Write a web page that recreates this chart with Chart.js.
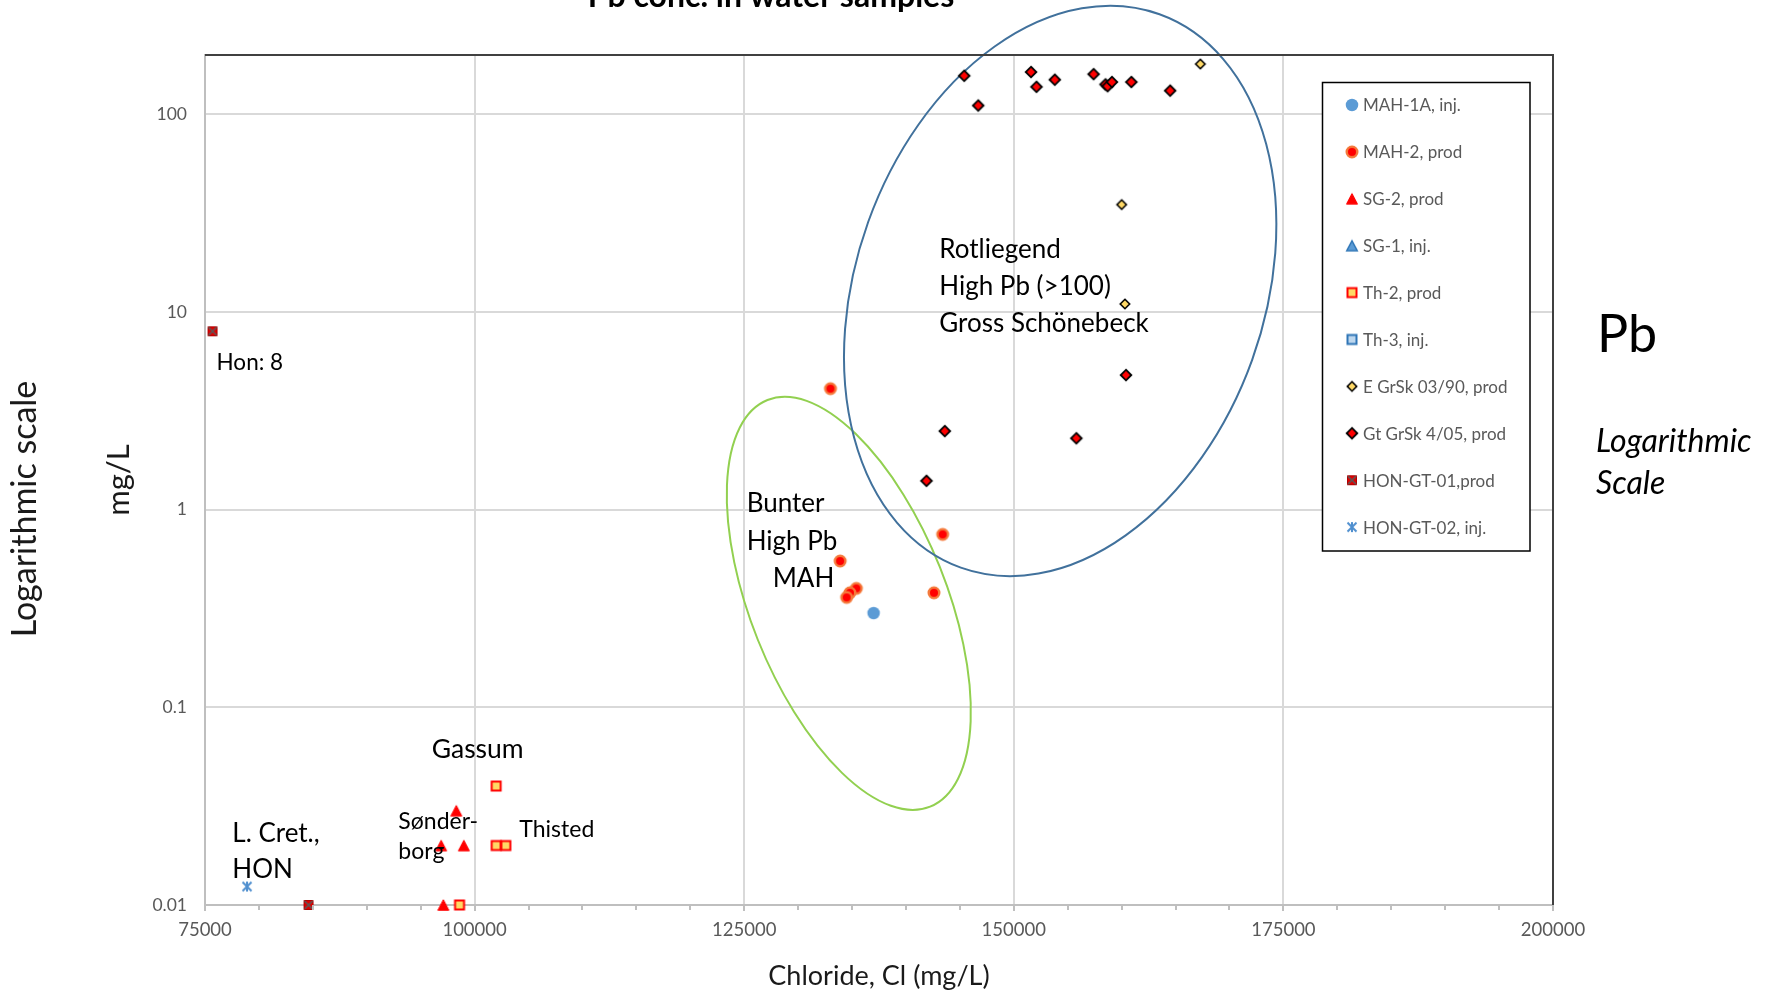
<!DOCTYPE html>
<html>
<head>
<meta charset="utf-8">
<script src="https://cdn.jsdelivr.net/npm/chart.js@4.4.1/dist/chart.umd.min.js"></script>
<style>
  html, body { margin: 0; padding: 0; background: #ffffff; overflow: hidden; }
  canvas { display: block; }
</style>
</head>
<body>
<canvas id="c" width="1777" height="992"></canvas>
<script>
// ---- Chloride (mg/L) vs Pb (mg/L) per well ----
const mah1aCl = [137000];
const mah1aPb = [0.30];

const mah2Cl = [133000, 143400, 133900, 135400, 134800, 134500, 142600];
const mah2Pb = [4.1, 0.75, 0.55, 0.40, 0.38, 0.36, 0.38];

const sg2Cl = [98300, 96900, 99000, 97100];
const sg2Pb = [0.030, 0.020, 0.020, 0.010];

const sg1Cl = [];
const sg1Pb = [];

const th2Cl = [102000, 102000, 102900, 98600];
const th2Pb = [0.040, 0.020, 0.020, 0.010];

const th3Cl = [];
const th3Pb = [];

const eGrSkCl = [167300, 160000, 160300];
const eGrSkPb = [180, 35, 11];

const gtGrSkCl = [145400, 146700, 151600, 152100, 153800, 157400, 158500, 158700, 159100, 160900, 164500, 160400, 155800, 143600, 141900];
const gtGrSkPb = [157, 111, 164, 138, 150, 160, 142, 139, 146, 146, 132, 4.8, 2.3, 2.5, 1.4];

const hon01Cl = [75700, 84600];
const hon01Pb = [8, 0.010];

const hon02Cl = [78900];
const hon02Pb = [0.0124];

const seriesLabels = ['MAH-1A, inj.', 'MAH-2, prod', 'SG-2, prod', 'SG-1, inj.', 'Th-2, prod', 'Th-3, inj.',
                      'E GrSk 03/90, prod', 'Gt GrSk 4/05, prod', 'HON-GT-01,prod', 'HON-GT-02, inj.'];

// axis ticks
const xTicks = [75000, 100000, 125000, 150000, 175000, 200000];
const xTickLabels = ['75000', '100000', '125000', '150000', '175000', '200000'];
const xMinorStep = 5000;
const yTicks = [0.01, 0.1, 1, 10, 100];
const yTickLabels = ['0.01', '0.1', '1', '10', '100'];

// ---- marker images ----
function marker(kind, fill, stroke, lw, w, h) {
  h = h || w;
  const size = Math.ceil(Math.max(w, h)) + 4;
  const s = size % 2 ? size + 1 : size;
  const cv = document.createElement('canvas');
  cv.width = s; cv.height = s;
  const g = cv.getContext('2d');
  const c = s / 2;
  const rw = (w - lw) / 2, rh = (h - lw) / 2;
  g.fillStyle = fill || 'transparent';
  g.strokeStyle = stroke || 'transparent';
  g.lineWidth = lw;
  g.lineJoin = 'miter';
  g.beginPath();
  if (kind === 'circle') {
    g.arc(c, c, rw, 0, Math.PI * 2);
  } else if (kind === 'triangle') {
    g.moveTo(c, c - rh); g.lineTo(c + rw, c + rh); g.lineTo(c - rw, c + rh); g.closePath();
  } else if (kind === 'square') {
    g.rect(c - rw, c - rh, 2 * rw, 2 * rh);
  } else if (kind === 'diamond') {
    g.moveTo(c, c - rh); g.lineTo(c + rw, c); g.lineTo(c, c + rh); g.lineTo(c - rw, c); g.closePath();
  }
  if (fill) g.fill();
  if (stroke && lw) g.stroke();
  return cv;
}
function crossSquare() {
  const cv = marker('square', '#E00000', '#B00000', 1, 10);
  const g = cv.getContext('2d');
  const c = cv.width / 2, r = 4;
  g.strokeStyle = '#595959'; g.lineWidth = 1.6;
  g.beginPath();
  g.moveTo(c - r, c - r); g.lineTo(c + r, c + r);
  g.moveTo(c + r, c - r); g.lineTo(c - r, c + r);
  g.stroke();
  return cv;
}
function asterisk() {
  const s = 14;
  const cv = document.createElement('canvas');
  cv.width = s; cv.height = s;
  const g = cv.getContext('2d');
  const c = s / 2, r = 4.5;
  g.strokeStyle = '#4F8FCF'; g.lineWidth = 2; g.lineCap = 'butt';
  g.beginPath();
  g.moveTo(c - r, c - r); g.lineTo(c + r, c + r);
  g.moveTo(c + r, c - r); g.lineTo(c - r, c + r);
  g.moveTo(c, c - r - 0.5); g.lineTo(c, c + r + 0.5);
  g.stroke();
  return cv;
}

function build() {
  const markers = [
    marker('circle', '#5B9BD5', null, 0, 12.5),
    marker('circle', '#FF0000', '#F4793B', 2.5, 13),
    marker('triangle', '#FF0000', '#FF0000', 1, 12, 11.5),
    marker('triangle', '#5B9BD5', '#2E75B6', 1.5, 12, 11.5),
    marker('square', '#FFD966', '#FF0000', 2, 11),
    marker('square', '#BDD7EE', '#2E75B6', 2, 11),
    marker('diamond', '#FFD966', '#000000', 1.6, 11),
    marker('diamond', '#FF0000', '#000000', 1.8, 12.5),
    crossSquare(),
    asterisk()
  ];
  const seriesCl = [mah1aCl, mah2Cl, sg2Cl, sg1Cl, th2Cl, th3Cl, eGrSkCl, gtGrSkCl, hon01Cl, hon02Cl];
  const seriesPb = [mah1aPb, mah2Pb, sg2Pb, sg1Pb, th2Pb, th3Pb, eGrSkPb, gtGrSkPb, hon01Pb, hon02Pb];

  const datasets = seriesLabels.map((label, k) => ({
    label,
    data: seriesCl[k].map((x, i) => ({ x, y: seriesPb[k][i] })),
    pointStyle: markers[k],
    pointRadius: 6,
    pointHoverRadius: 6,
    showLine: false,
    clip: false
  }));

  // group outlines: centre in data units, radii in px, tilt in degrees
  const groupOutlines = [
    { cl: 134700, pb: 0.336, rx: 98, ry: 219, tilt: -21.8, color: '#92D050' },
    { cl: 154300, pb: 12.8, rx: 204, ry: 294, tilt: 19.75, color: '#41719C' }
  ];

  // text placed on the plot, anchored at (chloride, Pb) of the first baseline
  const notes = [
    { cl: 143090, pb: 18.7, size: 26, lh: 37, lines: [['Rotliegend', 0], ['High Pb (>100)', 0], ['Gross Schönebeck', 0]] },
    { cl: 125230, pb: 0.97, size: 26, lh: 37.5, lines: [['Bunter', 0], ['High Pb', 0], ['MAH', 26]] },
    { cl: 96020, pb: 0.0555, size: 26.5, lh: 30, lines: [['Gassum', 0]] },
    { cl: 92930, pb: 0.02425, size: 23, lh: 30, lines: [['Sønder-', 0], ['borg', 0]] },
    { cl: 104150, pb: 0.02216, size: 23, lh: 30, lines: [['Thisted', 0]] },
    { cl: 77530, pb: 0.0209, size: 26, lh: 36.5, lines: [['L. Cret.,', 0], ['HON', 0]] },
    { cl: 76070, pb: 5.1, size: 22.5, lh: 30, lines: [['Hon: 8', 0]] }
  ];

  const decorations = {
    id: 'decorations',
    beforeDatasetsDraw(chart) {
      const { ctx, scales: { x, y } } = chart;
      ctx.save();
      groupOutlines.forEach(o => {
        ctx.beginPath();
        ctx.ellipse(x.getPixelForValue(o.cl), y.getPixelForValue(o.pb), o.rx, o.ry, o.tilt * Math.PI / 180, 0, Math.PI * 2);
        ctx.strokeStyle = o.color;
        ctx.lineWidth = 2;
        ctx.stroke();
      });
      ctx.restore();
    },
    afterDatasetsDraw(chart) {
      const { ctx, chartArea: a, scales: { x, y } } = chart;
      ctx.save();
      // minor ticks on the chloride axis
      ctx.strokeStyle = '#BFBFBF';
      ctx.lineWidth = 2;
      ctx.beginPath();
      for (let v = x.min + xMinorStep; v < x.max; v += xMinorStep) {
        const px = Math.round(x.getPixelForValue(v));
        ctx.moveTo(px, a.bottom);
        ctx.lineTo(px, a.bottom + 5);
      }
      ctx.stroke();
      // top and right frame
      ctx.strokeStyle = '#404040';
      ctx.lineWidth = 2;
      ctx.beginPath();
      ctx.moveTo(a.left, a.top);
      ctx.lineTo(a.right, a.top);
      ctx.lineTo(a.right, a.bottom);
      ctx.stroke();

      // notes
      ctx.fillStyle = '#000000';
      ctx.textAlign = 'left';
      ctx.textBaseline = 'alphabetic';
      notes.forEach(n => {
        ctx.font = n.size + 'px Lato';
        const px = x.getPixelForValue(n.cl), py = y.getPixelForValue(n.pb);
        n.lines.forEach((ln, i) => ctx.fillText(ln[0], px + ln[1], py + i * n.lh));
      });

      // legend box
      const bx = 1322.5, by = 82.5, bw = 207.5, bh = 468.5;
      ctx.fillStyle = '#ffffff';
      ctx.fillRect(bx, by, bw, bh);
      ctx.strokeStyle = '#000000';
      ctx.lineWidth = 1.5;
      ctx.strokeRect(bx, by, bw, bh);
      ctx.font = '17px Lato';
      ctx.fillStyle = '#595959';
      ctx.textBaseline = 'middle';
      chart.data.datasets.forEach((ds, i) => {
        const my = 105 + i * 46.9;
        const img = ds.pointStyle;
        ctx.drawImage(img, 1352 - img.width / 2, my - img.height / 2);
        ctx.fillText(ds.label, 1363, my + 1);
      });
      ctx.restore();
    },
    afterDraw(chart) {
      const { ctx, chartArea: a } = chart;
      ctx.save();
      ctx.fillStyle = '#000000';
      // chart title, partly above the canvas edge
      ctx.font = 'bold 32px Lato';
      ctx.textAlign = 'center';
      ctx.textBaseline = 'alphabetic';
      ctx.fillText('Pb conc. in water samples', 771, 7);
      // axis titles
      ctx.fillStyle = '#1a1a1a';
      ctx.font = '27px Lato';
      ctx.fillText('Chloride, Cl (mg/L)', (a.left + a.right) / 2, 985);
      ctx.save();
      ctx.translate(119, (a.top + a.bottom) / 2);
      ctx.rotate(-Math.PI / 2);
      ctx.textBaseline = 'middle';
      ctx.font = '31px Lato';
      ctx.fillText('mg/L', 0, 0);
      ctx.restore();
      ctx.save();
      ctx.translate(25, 509);
      ctx.rotate(-Math.PI / 2);
      ctx.textBaseline = 'middle';
      ctx.font = '34px Lato';
      ctx.fillText('Logarithmic scale', 0, 0);
      ctx.restore();
      // element tag at the right
      ctx.fillStyle = '#000000';
      ctx.textAlign = 'left';
      ctx.font = '52px Lato';
      ctx.fillText('Pb', 1597, 352);
      ctx.font = 'italic 32px Lato';
      ctx.fillText('Logarithmic', 1596, 452);
      ctx.fillText('Scale', 1596, 494);
      ctx.restore();
    }
  };

  Chart.defaults.font.family = 'Lato';
  new Chart(document.getElementById('c'), {
    type: 'scatter',
    data: { datasets },
    options: {
      responsive: false,
      devicePixelRatio: 1,
      animation: false,
      events: [],
      layout: { padding: { left: 0, right: 224, top: 55, bottom: 0 } },
      plugins: { legend: { display: false }, tooltip: { enabled: false }, title: { display: false } },
      scales: {
        x: {
          type: 'linear',
          min: 75000,
          max: 200000,
          afterBuildTicks: s => { s.ticks = xTicks.map(v => ({ value: v })); },
          afterFit: s => { s.height = 87; },
          ticks: {
            color: '#595959',
            font: { size: 18.5 },
            padding: 8,
            maxRotation: 0,
            autoSkip: false,
            callback: (v, i) => xTickLabels[i]
          },
          grid: { color: '#D9D9D9', lineWidth: 2, tickLength: 6, tickColor: '#BFBFBF', tickWidth: 2 },
          border: { color: '#BFBFBF', width: 2 }
        },
        y: {
          type: 'logarithmic',
          min: 0.01,
          max: 200,
          afterBuildTicks: s => { s.ticks = yTicks.map(v => ({ value: v })); },
          afterFit: s => { s.width = 205; },
          ticks: {
            color: '#595959',
            font: { size: 17.5 },
            padding: 18,
            autoSkip: false,
            callback: (v, i) => yTickLabels[i]
          },
          grid: { color: '#D9D9D9', lineWidth: 2, drawTicks: false },
          border: { color: '#BFBFBF', width: 2 }
        }
      }
    },
    plugins: [decorations]
  });
}

const fontLoads = document.fonts
  ? Promise.all(['17px Lato', 'bold 32px Lato', 'italic 32px Lato'].map(f => document.fonts.load(f))).catch(() => {})
  : Promise.resolve();
fontLoads.then(build, build);
</script>
</body>
</html>
